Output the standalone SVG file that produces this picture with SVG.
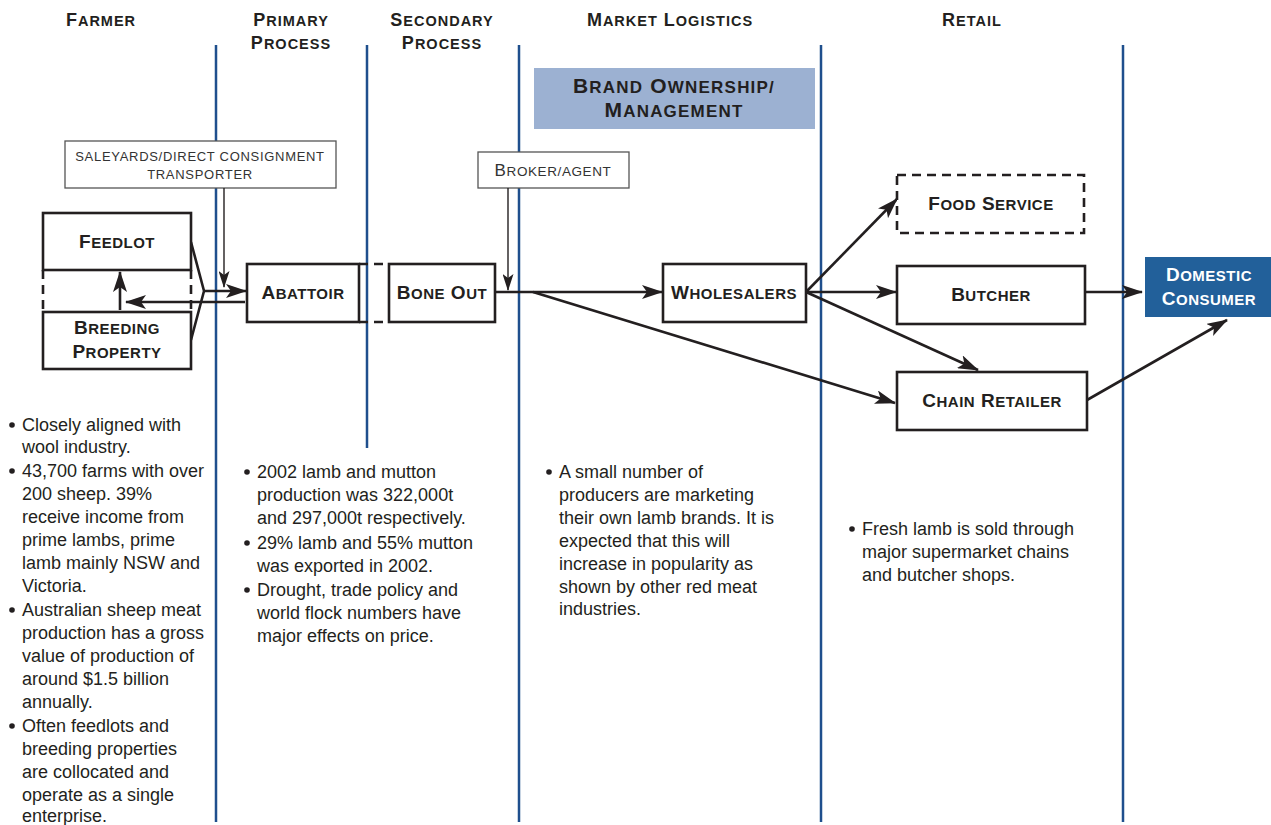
<svg xmlns="http://www.w3.org/2000/svg" width="1271" height="825" viewBox="0 0 1271 825">
<defs>
<style>
text{font-family:"Liberation Sans",Arial,sans-serif;fill:#231f20}
.hd{font-weight:bold;font-size:18px;letter-spacing:1px;text-anchor:middle}
.hd .s{font-size:14.5px}
.nd{font-weight:bold;font-size:19px;letter-spacing:0.5px;text-anchor:middle}
.nd .s{font-size:15px}
.br{font-weight:bold;font-size:21px;letter-spacing:1.2px;text-anchor:middle}
.br .s{font-size:17px}
.sm{font-size:13px;letter-spacing:0.7px;text-anchor:middle;fill:#333}
.bk{font-size:17px;letter-spacing:0.6px;text-anchor:middle;fill:#333}
.bk .s{font-size:13.5px}
.wt{fill:#fff}
.body{font-size:18px}
.dot{fill:#231f20}
.lane{stroke:#1f4f8d;stroke-width:2.5;fill:none}
.box{fill:#fff;stroke:#231f20;stroke-width:2.6}
.dbox{fill:#fff;stroke:#231f20;stroke-width:2.6;stroke-dasharray:9 6}
.thin{fill:#fff;stroke:#555;stroke-width:1.3}
.c{stroke:#231f20;stroke-width:2.6;fill:none}
.ct{stroke:#231f20;stroke-width:1.4;fill:none}
.dash{stroke:#231f20;stroke-width:2.6;fill:none;stroke-dasharray:9 6}
</style>
<marker id="ah" markerUnits="userSpaceOnUse" markerWidth="21" markerHeight="14" refX="20" refY="7" orient="auto">
<path d="M0,0 L21,7 L0,14 L5,7 Z" fill="#231f20"/>
</marker>
<marker id="ahs" markerUnits="userSpaceOnUse" markerWidth="17" markerHeight="11" refX="16" refY="5.5" orient="auto">
<path d="M0,0 L17,5.5 L0,11 L4,5.5 Z" fill="#231f20"/>
</marker>
</defs>
<rect x="0" y="0" width="1271" height="825" fill="#fff"/>

<g id="lanes">
<line class="lane" x1="216" y1="45" x2="216" y2="822"/>
<line class="lane" x1="367" y1="45" x2="367" y2="448"/>
<line class="lane" x1="519" y1="45" x2="519" y2="822"/>
<line class="lane" x1="821" y1="45" x2="821" y2="822"/>
<line class="lane" x1="1123" y1="45" x2="1123" y2="822"/>
</g>

<g id="headers">
<text class="hd" x="101" y="26">F<tspan class="s">ARMER</tspan></text>
<text class="hd" x="291" y="26">P<tspan class="s">RIMARY</tspan></text>
<text class="hd" x="291" y="49">P<tspan class="s">ROCESS</tspan></text>
<text class="hd" x="442" y="26">S<tspan class="s">ECONDARY</tspan></text>
<text class="hd" x="442" y="49">P<tspan class="s">ROCESS</tspan></text>
<text class="hd" x="670" y="26">M<tspan class="s">ARKET</tspan> L<tspan class="s">OGISTICS</tspan></text>
<text class="hd" x="972" y="26">R<tspan class="s">ETAIL</tspan></text>
</g>

<g id="brand">
<rect x="534" y="68" width="281" height="61" fill="#9cb1d2"/>
<text class="br" x="674" y="93">B<tspan class="s">RAND</tspan> O<tspan class="s">WNERSHIP/</tspan></text>
<text class="br" x="674" y="117">M<tspan class="s">ANAGEMENT</tspan></text>
</g>

<g id="saleyards">
<rect class="thin" x="65" y="141" width="271" height="47"/>
<text class="sm" x="200" y="161">SALEYARDS/DIRECT CONSIGNMENT</text>
<text class="sm" x="200" y="179">TRANSPORTER</text>
</g>

<g id="broker">
<rect class="thin" x="478" y="152" width="151" height="36"/>
<text class="bk" x="553" y="176">B<tspan class="s">ROKER/AGENT</tspan></text>
</g>

<g id="connectors">
<line class="dash" x1="43" y1="270" x2="43" y2="312"/>
<line class="dash" x1="191" y1="270" x2="191" y2="312"/>
<line class="dash" x1="359" y1="264" x2="389" y2="264"/>
<line class="dash" x1="359" y1="322" x2="389" y2="322"/>
<line class="ct" x1="224" y1="188" x2="224" y2="287" marker-end="url(#ahs)"/>
<line class="ct" x1="508" y1="188" x2="508" y2="290" marker-end="url(#ahs)"/>
<polyline class="c" points="191,242 204,291 191,340"/>
<line class="c" x1="204" y1="291" x2="246" y2="291" marker-end="url(#ah)"/>
<line class="c" x1="245" y1="302" x2="126" y2="302" marker-end="url(#ah)"/>
<line class="c" x1="120" y1="310" x2="120" y2="272" marker-end="url(#ah)"/>
<line class="c" x1="496" y1="292" x2="662" y2="292" marker-end="url(#ah)"/>
<line class="c" x1="533" y1="292" x2="895" y2="403" marker-end="url(#ah)"/>
<line class="c" x1="806" y1="292" x2="897" y2="199" marker-end="url(#ah)"/>
<line class="c" x1="806" y1="292" x2="896" y2="292" marker-end="url(#ah)"/>
<line class="c" x1="806" y1="292" x2="978" y2="370" marker-end="url(#ah)"/>
<line class="c" x1="1085" y1="292" x2="1142" y2="292" marker-end="url(#ah)"/>
<line class="c" x1="1087" y1="400" x2="1227" y2="320" marker-end="url(#ah)"/>
</g>

<g id="feedlot">
<rect class="box" x="43" y="213" width="148" height="57"/>
<text class="nd" x="117" y="248">F<tspan class="s">EEDLOT</tspan></text>
</g>
<g id="breeding">
<rect class="box" x="43" y="312" width="148" height="57"/>
<text class="nd" x="117" y="334">B<tspan class="s">REEDING</tspan></text>
<text class="nd" x="117" y="358">P<tspan class="s">ROPERTY</tspan></text>
</g>
<g id="abattoir">
<rect class="box" x="247" y="264" width="112" height="58"/>
<text class="nd" x="303" y="299">A<tspan class="s">BATTOIR</tspan></text>
</g>
<g id="boneout">
<rect class="box" x="389" y="264" width="106" height="58"/>
<text class="nd" x="442" y="299">B<tspan class="s">ONE</tspan> O<tspan class="s">UT</tspan></text>
</g>
<g id="wholesalers">
<rect class="box" x="663" y="264" width="143" height="58"/>
<text class="nd" x="734" y="299">W<tspan class="s">HOLESALERS</tspan></text>
</g>
<g id="foodservice">
<rect class="dbox" x="897" y="175" width="187" height="58"/>
<text class="nd" x="991" y="210">F<tspan class="s">OOD</tspan> S<tspan class="s">ERVICE</tspan></text>
</g>
<g id="butcher">
<rect class="box" x="897" y="266" width="188" height="58"/>
<text class="nd" x="991" y="301">B<tspan class="s">UTCHER</tspan></text>
</g>
<g id="chainretailer">
<rect class="box" x="897" y="372" width="190" height="58"/>
<text class="nd" x="992" y="407">C<tspan class="s">HAIN</tspan> R<tspan class="s">ETAILER</tspan></text>
</g>
<g id="domestic">
<rect x="1145" y="257" width="126" height="60" fill="#22609a"/>
<text class="nd wt" x="1209" y="281">D<tspan class="s">OMESTIC</tspan></text>
<text class="nd wt" x="1209" y="305">C<tspan class="s">ONSUMER</tspan></text>
</g>

<g id="notes-farmer">
<circle class="dot" cx="12" cy="425" r="2.8"/>
<text class="body" x="22" y="431">Closely aligned with</text>
<text class="body" x="22" y="453">wool industry.</text>
<circle class="dot" cx="12" cy="471" r="2.8"/>
<text class="body" x="22" y="477">43,700 farms with over</text>
<text class="body" x="22" y="500">200 sheep. 39%</text>
<text class="body" x="22" y="523">receive income from</text>
<text class="body" x="22" y="546">prime lambs, prime</text>
<text class="body" x="22" y="569">lamb mainly NSW and</text>
<text class="body" x="22" y="592">Victoria.</text>
<circle class="dot" cx="12" cy="610" r="2.8"/>
<text class="body" x="22" y="616">Australian sheep meat</text>
<text class="body" x="22" y="639">production has a gross</text>
<text class="body" x="22" y="662">value of production of</text>
<text class="body" x="22" y="685">around $1.5 billion</text>
<text class="body" x="22" y="708">annually.</text>
<circle class="dot" cx="12" cy="726" r="2.8"/>
<text class="body" x="22" y="732">Often feedlots and</text>
<text class="body" x="22" y="755">breeding properties</text>
<text class="body" x="22" y="778">are collocated and</text>
<text class="body" x="22" y="801">operate as a single</text>
<text class="body" x="22" y="822">enterprise.</text>
</g>

<g id="notes-process">
<circle class="dot" cx="247" cy="472" r="2.8"/>
<text class="body" x="257" y="478">2002 lamb and mutton</text>
<text class="body" x="257" y="501">production was 322,000t</text>
<text class="body" x="257" y="524">and 297,000t respectively.</text>
<circle class="dot" cx="247" cy="543" r="2.8"/>
<text class="body" x="257" y="549">29% lamb and 55% mutton</text>
<text class="body" x="257" y="572">was exported in 2002.</text>
<circle class="dot" cx="247" cy="590" r="2.8"/>
<text class="body" x="257" y="596">Drought, trade policy and</text>
<text class="body" x="257" y="619">world flock numbers have</text>
<text class="body" x="257" y="642">major effects on price.</text>
</g>

<g id="notes-market">
<circle class="dot" cx="549" cy="472" r="2.8"/>
<text class="body" x="559" y="478">A small number of</text>
<text class="body" x="559" y="501">producers are marketing</text>
<text class="body" x="559" y="524">their own lamb brands. It is</text>
<text class="body" x="559" y="547">expected that this will</text>
<text class="body" x="559" y="570">increase in popularity as</text>
<text class="body" x="559" y="593">shown by other red meat</text>
<text class="body" x="559" y="615">industries.</text>
</g>

<g id="notes-retail">
<circle class="dot" cx="852" cy="529" r="2.8"/>
<text class="body" x="862" y="535">Fresh lamb is sold through</text>
<text class="body" x="862" y="558">major supermarket chains</text>
<text class="body" x="862" y="581">and butcher shops.</text>
</g>
</svg>
